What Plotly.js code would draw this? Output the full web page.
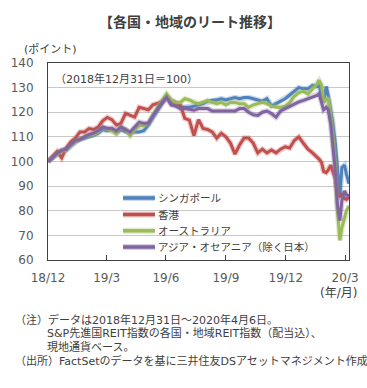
<!DOCTYPE html>
<html>
<head>
<meta charset="utf-8">
<script src="https://cdn.plot.ly/plotly-3.0.1.min.js"></script>
<style>html,body{margin:0;padding:0;background:#fff;}#chart{width:367px;height:388px;}</style>
</head>
<body>
<div id="chart"></div>
<script>
const dates = [
 '2018-12-31','2019-01-07','2019-01-14','2019-01-21','2019-01-28','2019-02-04','2019-02-11','2019-02-18','2019-02-25','2019-03-04',
 '2019-03-11','2019-03-18','2019-03-25','2019-04-01','2019-04-08','2019-04-15','2019-04-22','2019-04-29','2019-05-06','2019-05-13',
 '2019-05-20','2019-05-27','2019-06-03','2019-06-10','2019-06-17','2019-06-24','2019-07-01','2019-07-08','2019-07-15','2019-07-22',
 '2019-07-29','2019-08-05','2019-08-12','2019-08-19','2019-08-26','2019-09-02','2019-09-09','2019-09-16','2019-09-23','2019-09-30',
 '2019-10-07','2019-10-14','2019-10-21','2019-10-28','2019-11-04','2019-11-11','2019-11-18','2019-11-25','2019-12-02','2019-12-09',
 '2019-12-16','2019-12-23','2019-12-30','2020-01-06','2020-01-13','2020-01-20','2020-01-27','2020-02-03','2020-02-10','2020-02-17',
 '2020-02-20','2020-02-24','2020-02-27','2020-03-02','2020-03-05','2020-03-09','2020-03-12','2020-03-16','2020-03-19','2020-03-23',
 '2020-03-26','2020-03-30','2020-04-02','2020-04-06'
];
const seriesNames = ['シンガポール','香港','オーストラリア','アジア・オセアニア（除く日本）'];
const singapore = [
 100,102,103.5,104.5,105,106.5,108,109,109.5,110,
 110.5,111.5,113,112.5,113,111.5,113,112,111.5,112,
 112,112.5,114.8,118,121,123.5,126,124,123,122,
 122,122,122.5,123,123.5,124.5,125,125,125.5,125,
 125.5,126,125.5,126,126,125.5,125,124.5,125.5,122.5,
 123.5,124.5,125.5,127,128.5,130,129.5,129.5,130.9,130.5,
 131.5,126,124,130.5,127,121,116,107.5,97,86,
 97.5,98.5,95,91
];
const hongkong = [
 100,102,104,101.5,105.5,108,109.5,112,112,113.4,
 113,114,116.5,117.9,117,114.8,115.5,119.5,118.7,118,
 122,121.5,121,123,123.5,124.2,126.5,124.8,124,123,
 117.5,116.8,110.5,117,113.4,113,112,109.5,111.5,110,
 107.5,103,106.7,109.5,109.5,107.5,103.5,105,103.5,104.7,
 103.5,105,106,105.5,108.5,110,107.4,105,103.5,102,
 101,99.5,96,95.5,96.5,98.5,96,93,87.2,85.9,
 86.5,85,84.6,85.5
];
const australia = [
 100,101.5,103,104.5,104.5,106.5,108,109,110,110.5,
 111,112,114,113,112.5,111.4,114,113,110.5,113,
 114.5,114.5,115.5,119,122,125,127.5,125,124,124,
 125.5,125,124,123.5,124,124.8,124,123.5,124,123,
 124,124,123.5,123.5,122,123,123.5,124,123.5,122.5,
 122,122,122.5,124,126.5,128,128.5,127.5,129.5,131.5,
 133,131,124,125,126,119,112,99,81,68,
 73,77,80,82
];
const asiaOceania = [
 100,101.5,103.5,104.5,105,107,108.5,109,110,111,
 111.5,112.5,114,113.5,113.5,112.5,114,113,112,114,
 116,115.5,115.5,118.5,121.5,124,126,123,122.5,121.5,
 121.5,121,120.8,121.5,121.5,121.5,120.5,120.5,120.8,120.8,
 120.5,120.5,121.5,121.5,120,119,118.7,120,120.5,119.5,
 118,120.5,121.5,122.5,123.5,124.2,124.8,125.5,126.2,126.8,
 127.5,124,121,122,121,115,108,96,83,76,
 84,88,86.5,86
];
const xTickVals = ['2018-12-31','2019-03-31','2019-06-30','2019-09-30','2019-12-31','2020-03-31'];
const xTickText = ['18/12','19/3','19/6','19/9','19/12','20/3'];
const yTickVals = [60,70,80,90,100,110,120,130,140];

const colors = ['#4f81bd','#c0504d','#9bbb59','#8064a2'];
const values = [singapore, hongkong, australia, asiaOceania];
const font = 'DejaVu Sans, Noto Sans CJK JP, sans-serif';

const traces = [];
values.forEach((v,i)=>{
  traces.push({x:dates, y:v, type:'scatter', mode:'lines', showlegend:false, hoverinfo:'skip',
    opacity:0.3, line:{color:colors[i], width:5.5}});
  traces.push({x:dates, y:v, name:seriesNames[i], type:'scatter', mode:'lines', showlegend:false,
    line:{color:colors[i], width:3}});
});

function px(x){return (x-48)/301;}
function py(y){return (260-y)/197;}

// custom legend (rows as in the reference)
const legendRows = [198, 214.5, 230.8, 247];
const shapes = [];
const legendAnn = [];
seriesNames.forEach((n,i)=>{
  shapes.push({type:'line', xref:'paper', yref:'paper', x0:px(123), x1:px(155), y0:py(legendRows[i]), y1:py(legendRows[i]),
    line:{color:colors[i], width:6}, opacity:0.3});
  shapes.push({type:'line', xref:'paper', yref:'paper', x0:px(123), x1:px(155), y0:py(legendRows[i]), y1:py(legendRows[i]),
    line:{color:colors[i], width:3.5}});
  legendAnn.push({text:n, xref:'paper', yref:'paper', x:px(156), y:py(legendRows[i]), xanchor:'left', yanchor:'middle',
    showarrow:false, font:{size:10.5, color:'#404040', family:font}});
});

const layout = {
  width:367, height:388,
  margin:{l:48,r:18,t:63,b:128},
  paper_bgcolor:'#fff', plot_bgcolor:'#fff',
  font:{family:font, color:'#404040', size:11},
  title:{text:'<b>【各国・地域のリート推移】</b>', font:{size:14, color:'#404040', family:font},
         x:190/367, xanchor:'center', y:1-22/388, yanchor:'middle', xref:'container', yref:'container'},
  showlegend:false,
  xaxis:{type:'date', range:['2018-12-31','2020-04-06'], tickvals:xTickVals, ticktext:xTickText,
         ticks:'inside', ticklen:5, tickcolor:'#404040', showgrid:false, zeroline:false,
         showline:true, mirror:true, linecolor:'#404040', linewidth:1,
         tickfont:{size:12, color:'#595959', family:font}, ticklabelstandoff:7},
  yaxis:{range:[60,140], tickvals:yTickVals, showgrid:true, gridcolor:'#c8c8c8', gridwidth:1,
         zeroline:false, showline:true, mirror:true, linecolor:'#404040', linewidth:1, ticks:'',
         tickfont:{size:12, color:'#595959', family:font}, ticklabelstandoff:11},
  shapes: shapes,
  annotations:[
    {text:'(ポイント)', xref:'paper', yref:'paper', x:px(22), y:py(49), xanchor:'left', yanchor:'middle', showarrow:false, font:{size:11, color:'#404040'}},
    {text:'（2018年12月31日＝100）', xref:'paper', yref:'paper', x:px(53), y:py(79), xanchor:'left', yanchor:'middle', showarrow:false, font:{size:11, color:'#404040'}},
    {text:'(年/月)', xref:'paper', yref:'paper', x:px(359), y:py(293), xanchor:'right', yanchor:'middle', showarrow:false, font:{size:12, color:'#404040'}},
    {text:'（注）データは2018年12月31日～2020年4月6日。', xref:'paper', yref:'paper', x:px(13), y:py(320), xanchor:'left', yanchor:'middle', showarrow:false, font:{size:11, color:'#404040'}},
    {text:'S&amp;P先進国REIT指数の各国・地域REIT指数（配当込）、', xref:'paper', yref:'paper', x:px(45), y:py(333), xanchor:'left', yanchor:'middle', showarrow:false, font:{size:11, color:'#404040'}},
    {text:'現地通貨ベース。', xref:'paper', yref:'paper', x:px(45), y:py(347), xanchor:'left', yanchor:'middle', showarrow:false, font:{size:11, color:'#404040'}},
    {text:'（出所）FactSetのデータを基に三井住友DSアセットマネジメント作成', xref:'paper', yref:'paper', x:px(13), y:py(361), xanchor:'left', yanchor:'middle', showarrow:false, font:{size:11, color:'#404040'}}
  ].concat(legendAnn)
};

Plotly.newPlot('chart', traces, layout, {staticPlot:true, displayModeBar:false});
</script>
</body>
</html>
